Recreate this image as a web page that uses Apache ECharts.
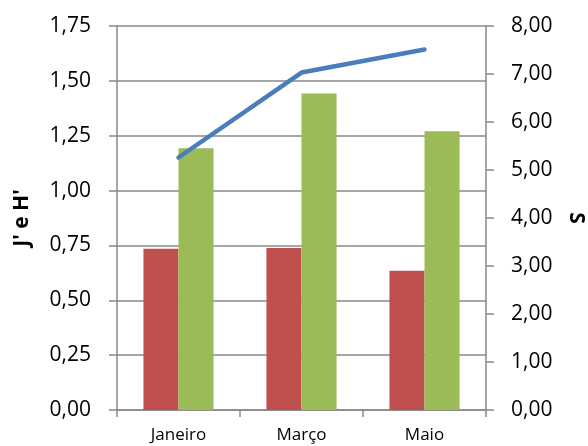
<!DOCTYPE html>
<html><head><meta charset="utf-8">
<script src="https://cdn.jsdelivr.net/npm/echarts@6/dist/echarts.min.js"></script>
<style>html,body{margin:0;padding:0;background:#fff}#c{width:588px;height:446px}</style>
</head><body><div id="c"></div>
<script>
var categories = ['Janeiro', 'Março', 'Maio'];
var jValues = [0.735, 0.738, 0.635];
var hValues = [1.193, 1.442, 1.270];
var sValues = [5.26, 7.03, 7.51];
var leftTicks = [0, 0.25, 0.5, 0.75, 1, 1.25, 1.5, 1.75];
var rightTicks = [0, 1, 2, 3, 4, 5, 6, 7, 8];

var fmt = function (v) { return v.toFixed(2).replace('.', ','); };
var FONT = 'Open Sans';
var gray = '#888888';
var chart = echarts.init(document.getElementById('c'), null, {renderer: 'canvas'});
chart.setOption({
  animation: false,
  grid: {left: 117, right: 102, top: 26, bottom: 36, outerBoundsMode: 'none', containLabel: false},
  xAxis: {
    type: 'category', data: categories, boundaryGap: true,
    axisLine: {lineStyle: {color: gray, width: 1.5}},
    axisTick: {show: true, length: 7, lineStyle: {color: gray, width: 1.5}},
    axisLabel: {color: '#000', fontFamily: FONT, fontSize: 17, margin: 17}
  },
  yAxis: [{
    type: 'value', min: leftTicks[0], max: leftTicks[leftTicks.length - 1], interval: 0.25,
    name: "J' e H'", nameLocation: 'middle', nameRotate: 90, nameGap: 84,
    nameTextStyle: {fontFamily: FONT, fontSize: 21, fontWeight: 'bold', color: '#000'},
    axisLine: {show: true, lineStyle: {color: gray, width: 1.5}},
    axisTick: {show: true, length: 8, lineStyle: {color: gray, width: 1.5}},
    splitLine: {show: true, lineStyle: {color: gray, width: 1.5}},
    axisLabel: {color: '#000', fontFamily: FONT, fontSize: 21, margin: 26, formatter: fmt}
  }, {
    type: 'value', min: rightTicks[0], max: rightTicks[rightTicks.length - 1], interval: 1,
    name: 'S', nameLocation: 'middle', nameRotate: -90, nameGap: 79,
    nameTextStyle: {fontFamily: FONT, fontSize: 21, fontWeight: 'bold', color: '#000'},
    axisLine: {show: true, lineStyle: {color: gray, width: 1.5}},
    axisTick: {show: true, length: 8, lineStyle: {color: gray, width: 1.5}},
    splitLine: {show: false},
    axisLabel: {color: '#000', fontFamily: FONT, fontSize: 21, margin: 25, formatter: fmt}
  }],
  series: [{
    name: "J'", type: 'bar', yAxisIndex: 0, data: jValues,
    barGap: '0%', barCategoryGap: '43%',
    itemStyle: {color: '#c0504d'}
  }, {
    name: "H'", type: 'bar', yAxisIndex: 0, data: hValues,
    barGap: '0%', barCategoryGap: '43%',
    itemStyle: {color: '#9bbb59'}
  }, {
    name: 'S', type: 'line', yAxisIndex: 1, data: sValues,
    showSymbol: false, symbol: 'none',
    lineStyle: {color: '#4a7ebb', width: 4.5, cap: 'round', join: 'round'}
  }]
});
</script></body></html>
